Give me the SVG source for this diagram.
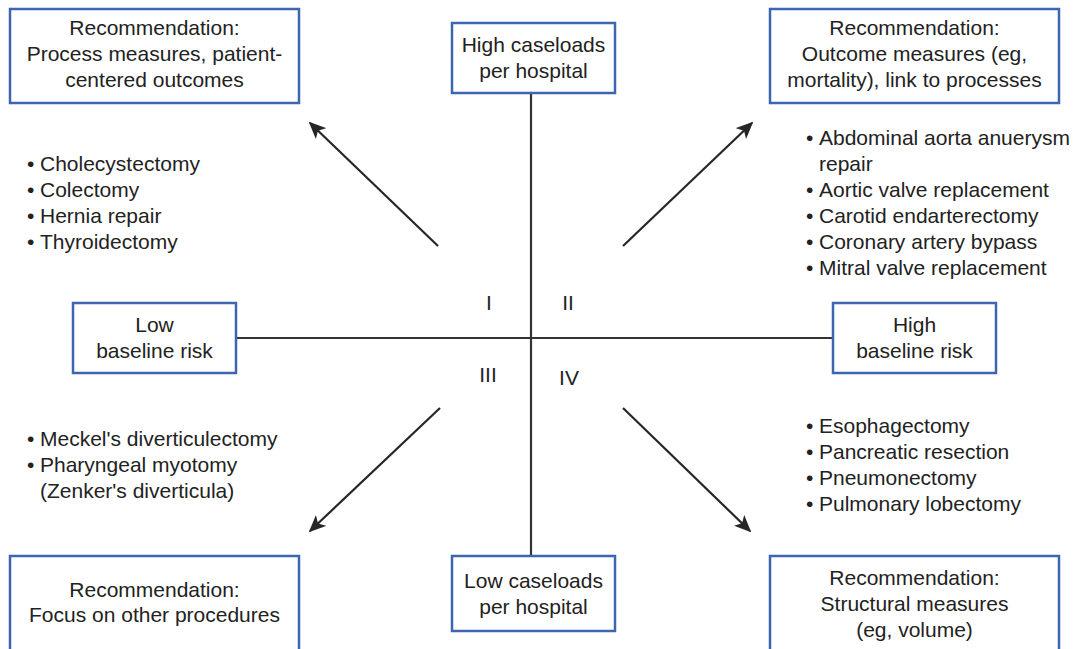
<svg xmlns="http://www.w3.org/2000/svg" width="1084" height="649" viewBox="0 0 1084 649">
  <defs>
    <style>
      .box { fill: #ffffff; stroke: #3d65b0; stroke-width: 2.5; }
      .txt { font-family: "Liberation Sans", Arial, Helvetica, sans-serif; font-size: 21px; fill: #222222; }
      .c { text-anchor: middle; }
      .axis { stroke: #333333; stroke-width: 2.2; fill: none; }
      .arrow { stroke: #262626; stroke-width: 2.2; fill: none; marker-end: url(#head); }
    </style>
    <marker id="head" viewBox="0 0 10 10" refX="9" refY="5" markerWidth="17" markerHeight="15" markerUnits="userSpaceOnUse" orient="auto" preserveAspectRatio="none">
      <path d="M0,0 L10,5 L0,10 L2.5,5 Z" fill="#262626"/>
    </marker>
  </defs>
  <rect width="1084" height="649" fill="#ffffff"/>

  <!-- axes and arrows -->
  <g id="connectors">
    <line class="axis" x1="531" y1="93" x2="531" y2="556"/>
    <line class="axis" x1="236" y1="338" x2="833" y2="338"/>
    <line class="arrow" x1="438" y1="246" x2="310" y2="123"/>
    <line class="arrow" x1="623" y1="246" x2="752" y2="123"/>
    <line class="arrow" x1="440" y1="408" x2="310" y2="531"/>
    <line class="arrow" x1="623" y1="408" x2="750" y2="531"/>
  </g>

  <!-- quadrant numerals -->
  <g id="quadrants" class="txt c">
    <text x="489" y="310">I</text>
    <text x="568" y="310">II</text>
    <text x="488" y="382">III</text>
    <text x="569" y="385">IV</text>
  </g>

  <g id="rec-top-left">
    <rect class="box" x="10" y="9" width="289" height="94"/>
    <text class="txt c" x="154.5" y="35">Recommendation:</text>
    <text class="txt c" x="154.5" y="61">Process measures, patient-</text>
    <text class="txt c" x="154.5" y="87">centered outcomes</text>
  </g>

  <g id="high-caseloads">
    <rect class="box" x="452" y="23" width="163" height="70"/>
    <text class="txt c" x="533.5" y="52">High caseloads</text>
    <text class="txt c" x="533.5" y="78">per hospital</text>
  </g>

  <g id="rec-top-right">
    <rect class="box" x="770" y="9" width="289" height="94"/>
    <text class="txt c" x="914.5" y="35">Recommendation:</text>
    <text class="txt c" x="914.5" y="61">Outcome measures (eg,</text>
    <text class="txt c" x="914.5" y="87">mortality), link to processes</text>
  </g>

  <g id="low-risk">
    <rect class="box" x="73" y="303" width="163" height="70"/>
    <text class="txt c" x="154.5" y="332">Low</text>
    <text class="txt c" x="154.5" y="358">baseline risk</text>
  </g>

  <g id="high-risk">
    <rect class="box" x="833" y="303" width="163" height="70"/>
    <text class="txt c" x="914.5" y="332">High</text>
    <text class="txt c" x="914.5" y="358">baseline risk</text>
  </g>

  <g id="rec-bottom-left">
    <rect class="box" x="10" y="556" width="289" height="110"/>
    <text class="txt c" x="154.5" y="597">Recommendation:</text>
    <text class="txt c" x="154.5" y="622">Focus on other procedures</text>
  </g>

  <g id="low-caseloads">
    <rect class="box" x="452" y="556" width="163" height="75"/>
    <text class="txt c" x="533.5" y="588">Low caseloads</text>
    <text class="txt c" x="533.5" y="614">per hospital</text>
  </g>

  <g id="rec-bottom-right">
    <rect class="box" x="770" y="556" width="289" height="110"/>
    <text class="txt c" x="914.5" y="585">Recommendation:</text>
    <text class="txt c" x="914.5" y="611">Structural measures</text>
    <text class="txt c" x="914.5" y="637">(eg, volume)</text>
  </g>

  <!-- procedure lists -->
  <g id="list-quadrant-1" class="txt">
    <text x="27" y="171">•<tspan x="40">Cholecystectomy</tspan></text>
    <text x="27" y="197">•<tspan x="40">Colectomy</tspan></text>
    <text x="27" y="223">•<tspan x="40">Hernia repair</tspan></text>
    <text x="27" y="249">•<tspan x="40">Thyroidectomy</tspan></text>
  </g>

  <g id="list-quadrant-2" class="txt">
    <text x="806" y="145">•<tspan x="819">Abdominal aorta anuerysm</tspan></text>
    <text x="819" y="171">repair</text>
    <text x="806" y="197">•<tspan x="819">Aortic valve replacement</tspan></text>
    <text x="806" y="223">•<tspan x="819">Carotid endarterectomy</tspan></text>
    <text x="806" y="249">•<tspan x="819">Coronary artery bypass</tspan></text>
    <text x="806" y="275">•<tspan x="819">Mitral valve replacement</tspan></text>
  </g>

  <g id="list-quadrant-3" class="txt">
    <text x="27" y="446">•<tspan x="40">Meckel's diverticulectomy</tspan></text>
    <text x="27" y="472">•<tspan x="40">Pharyngeal myotomy</tspan></text>
    <text x="40" y="498">(Zenker's diverticula)</text>
  </g>

  <g id="list-quadrant-4" class="txt">
    <text x="806" y="433">•<tspan x="819">Esophagectomy</tspan></text>
    <text x="806" y="459">•<tspan x="819">Pancreatic resection</tspan></text>
    <text x="806" y="485">•<tspan x="819">Pneumonectomy</tspan></text>
    <text x="806" y="511">•<tspan x="819">Pulmonary lobectomy</tspan></text>
  </g>
</svg>
